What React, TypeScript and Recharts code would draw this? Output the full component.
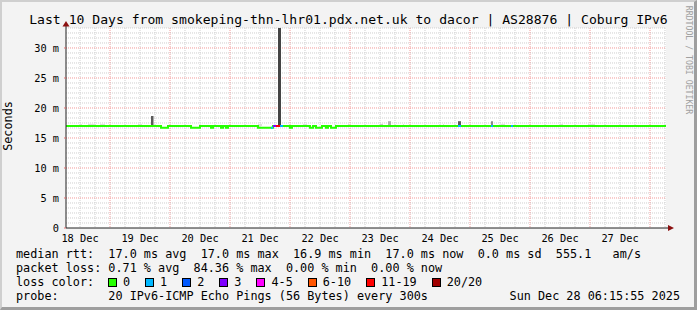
import React from 'react';
import { ComposedChart, Line, Area, XAxis, YAxis, CartesianGrid, ReferenceDot } from 'recharts';

const FONT = '"DejaVu Sans Mono", monospace';

// time axis in hours after 18 Dec 00:00
const START_H = 6.4;
const END_H = 246.4;
const Y_MAX = 33.33;

const DAY_LABELS = ['18 Dec', '19 Dec', '20 Dec', '21 Dec', '22 Dec', '23 Dec', '24 Dec', '25 Dec', '26 Dec', '27 Dec'];
const DAY_NOON = [12, 36, 60, 84, 108, 132, 156, 180, 204, 228];
const DAY_START = [24, 48, 72, 96, 120, 144, 168, 192, 216, 240];
const Y_TICKS = [0, 5, 10, 15, 20, 25, 30];

// median rtt (ms), value holds until the next time
const MEDIAN_T = [6.4, 44.4, 47.2, 56.4, 60.0, 64.4, 65.2, 68.4, 69.2, 70.4, 71.2, 83.2, 89.2, 96.0, 96.8, 104.0, 105.2, 106.4, 108.8, 110.4, 111.2, 112.4, 114.4, 246.4];
const MEDIAN_MS = [17.0, 16.7, 17.0, 16.7, 17.0, 16.7, 17.0, 16.7, 17.0, 16.7, 17.0, 16.7, 17.0, 16.7, 17.0, 16.7, 17.0, 16.7, 17.0, 16.7, 17.0, 16.7, 17.0, 17.0];

// periods with packet loss (pings lost of 20)
const LOSS_FROM = [88.4, 89.2, 90.4, 92.0, 163.2, 176.4, 184.4];
const LOSS_TO = [89.2, 90.4, 92.0, 93.2, 164.4, 177.2, 185.2];
const LOSS_MS = [16.7, 17.0, 17.0, 17.0, 17.0, 17.0, 17.0];
const LOSS_LOST = [1, 3, 17, 1, 1, 1, 1];

// smoke (spread of the 20 pings above the median)
const SMOKE_FROM = [12.0, 15.2, 20.0, 35.2, 40.4, 83.2, 91.2, 101.2, 119.2, 132.0, 135.2, 141.2, 157.2, 163.2, 176.4, 180.4, 204.0, 215.2];
const SMOKE_TO = [12.8, 18.4, 22.0, 36.8, 41.4, 84.8, 92.4, 102.8, 119.6, 133.2, 136.4, 141.6, 157.6, 164.4, 177.2, 182.0, 205.2, 218.0];
const SMOKE_TOP = [17.35, 17.35, 17.35, 17.35, 18.67, 17.35, 33.33, 17.35, 17.35, 17.35, 17.8, 17.35, 17.35, 17.8, 17.8, 17.35, 17.35, 17.35];
const SMOKE_LEVEL = [1, 1, 1, 1, 5, 1, 6, 1, 1, 2, 3, 1, 1, 5, 4, 1, 1, 1];

const LOSS_LABELS = ['0', '1', '2', '3', '4-5', '6-10', '11-19', '20/20'];
const LOSS_COLORS = ['#26ff00', '#00b8ff', '#0059ff', '#7e00ff', '#ff00ff', '#ff5500', '#ff0000', '#a10000'];
const SMOKE_COLORS = ['#ffffff', '#dedede', '#cacaca', '#adadad', '#8a8a8a', '#5a5a5a', '#444444'];

const lossColor = (lost: number) => {
  if (lost <= 0) return LOSS_COLORS[0];
  if (lost === 1) return LOSS_COLORS[1];
  if (lost === 2) return LOSS_COLORS[2];
  if (lost === 3) return LOSS_COLORS[3];
  if (lost <= 5) return LOSS_COLORS[4];
  if (lost <= 10) return LOSS_COLORS[5];
  if (lost <= 19) return LOSS_COLORS[6];
  return LOSS_COLORS[7];
};

// grid helpers
const MINOR_X: number[] = [];
for (let h = 12; h < END_H; h += 6) if (h % 24 !== 0) MINOR_X.push(h);
const MINOR_Y: number[] = [];
for (let k = 1; k <= 40; k++) if (k % 6 !== 0) MINOR_Y.push((k * 5) / 6);
const MAJOR_Y = [5, 10, 15, 20, 25, 30];

const medianData = MEDIAN_T.map((t, i) => ({ t, v: MEDIAN_MS[i] }));

const ARROW = '#8b1010';

const UpArrow = (p: any) => (
  <g>
    <line x1={p.cx} y1={p.cy} x2={p.cx} y2={p.cy - 5} stroke="#202020" />
    <polygon points={`${p.cx},${p.cy - 7} ${p.cx - 3.5},${p.cy - 1.5} ${p.cx + 3.5},${p.cy - 1.5}`} fill={ARROW} />
  </g>
);

const RightArrow = (p: any) => (
  <g>
    <line x1={p.cx} y1={p.cy} x2={p.cx + 4} y2={p.cy} stroke="#202020" />
    <polygon points={`${p.cx + 8},${p.cy} ${p.cx + 2},${p.cy - 3} ${p.cx + 2},${p.cy + 3}`} fill={ARROW} />
  </g>
);

const legendRow: React.CSSProperties = {
  position: 'absolute',
  left: 14,
  fontFamily: FONT,
  fontSize: 11.8,
  lineHeight: '14px',
  whiteSpace: 'pre',
  color: '#000',
};

export default function App() {
  return (
    <div
      style={{
        position: 'relative',
        width: 697,
        height: 310,
        boxSizing: 'border-box',
        background: '#f3f3f3',
        borderTop: '2px solid #cfcfcf',
        borderLeft: '2px solid #cfcfcf',
        borderRight: '3px solid #9e9e9e',
        borderBottom: '3px solid #9e9e9e',
        overflow: 'hidden',
      }}
    >
      <style>{'body{margin:0}'}</style>
      <div style={{ position: 'absolute', left: -2, top: -2 }}>
        <ComposedChart width={697} height={310} margin={{ top: 28, right: 31, bottom: 52, left: 0 }}>
          <CartesianGrid
            verticalValues={MINOR_X}
            horizontalValues={MINOR_Y}
            stroke="#cfcfcf"
            strokeDasharray="1 1"
            fill="#ffffff"
          />
          <CartesianGrid
            verticalValues={DAY_START}
            horizontalValues={MAJOR_Y}
            stroke="#f29a9a"
            strokeDasharray="1 1"
          />
          <XAxis
            type="number"
            dataKey="t"
            domain={[START_H, END_H]}
            allowDataOverflow
            ticks={DAY_NOON}
            interval={0}
            tickFormatter={(v) => DAY_LABELS[DAY_NOON.indexOf(v)] ?? ''}
            tickLine={false}
            tickSize={0}
            tickMargin={7}
            height={30}
            axisLine={{ stroke: '#202020' }}
            tick={{ fontFamily: FONT, fontSize: 10.3, fill: '#000' }}
          />
          <YAxis
            type="number"
            domain={[0, Y_MAX]}
            allowDataOverflow
            ticks={Y_TICKS}
            interval={0}
            width={66}
            tickFormatter={(v) => (v === 0 ? '0' : `${v} m`)}
            tickSize={2}
            tickMargin={5}
            tickLine={{ stroke: '#e07070' }}
            axisLine={{ stroke: '#202020' }}
            tick={{ fontFamily: FONT, fontSize: 10.3, fill: '#000' }}
          />
          {SMOKE_FROM.map((from, i) => (
            <Area
              key={`smoke-${i}`}
              data={[
                { t: from, r: [17.0, SMOKE_TOP[i]] },
                { t: SMOKE_TO[i], r: [17.0, SMOKE_TOP[i]] },
              ]}
              dataKey="r"
              type="linear"
              stroke="none"
              fill={SMOKE_COLORS[SMOKE_LEVEL[i]]}
              fillOpacity={1}
              dot={false}
              activeDot={false}
              isAnimationActive={false}
            />
          ))}
          <Line
            data={medianData}
            dataKey="v"
            type="stepAfter"
            stroke={LOSS_COLORS[0]}
            strokeWidth={2}
            dot={false}
            activeDot={false}
            isAnimationActive={false}
          />
          {LOSS_FROM.map((from, i) => (
            <Line
              key={`loss-${i}`}
              data={[
                { t: from, v: LOSS_MS[i] },
                { t: LOSS_TO[i], v: LOSS_MS[i] },
              ]}
              dataKey="v"
              type="linear"
              stroke={lossColor(LOSS_LOST[i])}
              strokeWidth={2}
              dot={false}
              activeDot={false}
              isAnimationActive={false}
            />
          ))}
          <ReferenceDot x={START_H} y={Y_MAX} r={0} ifOverflow="visible" shape={UpArrow} />
          <ReferenceDot x={END_H} y={0} r={0} ifOverflow="visible" shape={RightArrow} />
        </ComposedChart>
      </div>

      {/* title */}
      <div
        style={{
          position: 'absolute',
          left: -2,
          top: 11,
          width: 697,
          textAlign: 'center',
          fontFamily: FONT,
          fontSize: 13.1,
          lineHeight: '13px',
          whiteSpace: 'pre',
        }}
      >
        Last 10 Days from smokeping-thn-lhr01.pdx.net.uk to dacor | AS28876 | Coburg IPv6
      </div>

      {/* vertical unit label */}
      <div
        style={{
          position: 'absolute',
          left: 8 - 2,
          top: 126 - 2,
          transform: 'translate(-50%, -50%) rotate(-90deg)',
          fontFamily: FONT,
          fontSize: 11.8,
          lineHeight: '12px',
          whiteSpace: 'pre',
        }}
      >
        Seconds
      </div>

      {/* watermark */}
      <div
        style={{
          position: 'absolute',
          left: 688 - 2,
          top: 60 - 2,
          transform: 'translate(-50%, -50%) rotate(90deg)',
          fontFamily: FONT,
          fontSize: 8.2,
          lineHeight: '9px',
          color: '#a0a0a0',
          whiteSpace: 'pre',
        }}
      >
        RRDTOOL / TOBI OETIKER
      </div>

      {/* legend */}
      <div style={{ ...legendRow, top: 247 - 2 }}>
        {'median rtt:  17.0 ms avg  17.0 ms max  16.9 ms min  17.0 ms now  0.0 ms sd  555.1   am/s'}
      </div>
      <div style={{ ...legendRow, top: 261 - 2 }}>
        {'packet loss: 0.71 % avg  84.36 % max  0.00 % min  0.00 % now'}
      </div>
      <div style={{ ...legendRow, top: 275 - 2, display: 'flex', alignItems: 'center', width: 660 }}>
        <span style={{ display: 'inline-block', width: 92, minWidth: 92, flexShrink: 0 }}>{'loss color:'}</span>
        {LOSS_LABELS.map((lab, i) => (
          <span key={lab} style={{ display: 'flex', alignItems: 'center', marginRight: 15, flexShrink: 0 }}>
            <span
              style={{
                display: 'inline-block',
                width: 9,
                height: 9,
                flexShrink: 0,
                boxSizing: 'border-box',
                border: '1px solid #000',
                background: LOSS_COLORS[i],
                marginRight: 6,
              }}
            />
            <span>{lab}</span>
          </span>
        ))}
      </div>
      <div style={{ ...legendRow, top: 289 - 2 }}>
        {'probe:       20 IPv6-ICMP Echo Pings (56 Bytes) every 300s'}
      </div>
      <div style={{ ...legendRow, top: 289 - 2, left: 'auto', right: 17 - 3 }}>
        {'Sun Dec 28 06:15:55 2025'}
      </div>
    </div>
  );
}
